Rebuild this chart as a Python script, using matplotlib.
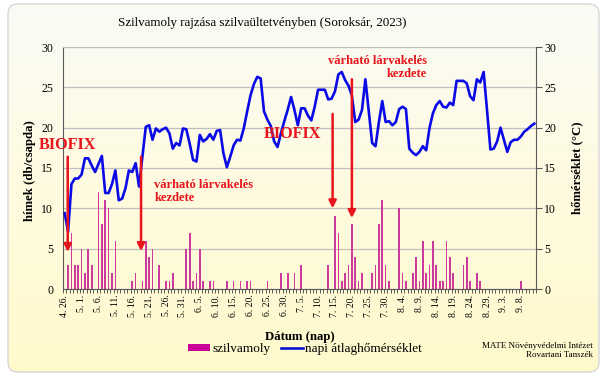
import datetime as dt
import numpy as np
import matplotlib
matplotlib.use("Agg")
import matplotlib.pyplot as plt
from matplotlib.patches import FancyBboxPatch, Patch
from matplotlib.lines import Line2D
from matplotlib.colors import LinearSegmentedColormap

plt.rcParams['font.family'] = ['Liberation Serif', 'DejaVu Serif']

# --- data -----------------------------------------------------------------
start_date = dt.date(2023, 4, 26)
n_days = 140

# moth catches (males / trap), day index from 4.26.
catch_days = [1, 2, 3, 4, 5, 6, 7, 8, 10, 11, 12, 13, 14, 15, 20, 21, 23, 24, 25, 26,
              28, 30, 31, 32, 36, 37, 38, 39, 40, 41, 43, 44, 48, 50, 52, 54, 55, 60,
              64, 66, 68, 70, 78, 80, 81, 82, 83, 84, 85, 86, 87, 88, 91, 92, 93, 94,
              95, 96, 99, 100, 101, 103, 104, 105, 106, 107, 108, 109, 110, 111, 112,
              113, 114, 115, 118, 119, 120, 122, 123, 135]
catch_vals = [3, 7, 3, 3, 5, 2, 5, 3, 12, 8, 11, 10, 2, 6, 1, 2, 1, 6, 4, 5,
              3, 1, 1, 2, 5, 7, 1, 2, 5, 1, 1, 1, 1, 1, 1, 1, 1, 1,
              2, 2, 2, 3, 3, 9, 7, 1, 2, 3, 8, 4, 1, 2, 2, 3, 8, 11,
              3, 1, 10, 2, 1, 2, 4, 1, 6, 2, 3, 6, 3, 1, 1,
              6, 4, 2, 3, 4, 1, 2, 1, 1]

# daily mean temperature (°C)
temp = [9.4, 7.1, 13.0, 13.7, 13.7, 14.2, 16.2, 16.2, 15.3, 14.5,
        15.5, 16.5, 11.9, 11.9, 13.0, 14.7, 11.0, 11.2, 12.5, 14.7,
        14.5, 15.6, 12.7, 16.4, 20.1, 20.3, 18.5, 19.9, 19.5, 19.8,
        20.0, 19.3, 17.4, 18.1, 17.8, 19.9, 19.8, 18.0, 16.0, 15.8,
        19.1, 18.3, 18.6, 19.2, 18.5, 19.6, 19.7, 16.8, 15.1, 16.4,
        17.8, 18.5, 18.4, 19.9, 22.0, 24.0, 25.4, 26.3, 26.1, 22.0,
        21.0, 20.2, 18.3, 17.6, 19.3, 20.8, 22.2, 23.8, 22.2, 20.3,
        22.4, 22.4, 21.5, 20.9, 22.6, 24.7, 24.7, 24.7, 23.5, 23.6,
        24.5, 26.6, 26.9, 25.9, 25.2, 24.0, 20.7, 21.0, 22.2, 26.0,
        22.0, 18.1, 17.7, 20.7, 23.3, 20.7, 20.8, 20.3, 20.7, 22.3,
        22.6, 22.3, 17.4, 16.9, 16.6, 17.0, 17.7, 17.2, 20.0, 21.8,
        22.8, 23.3, 22.6, 22.5, 23.1, 22.8, 25.8, 25.8, 25.8, 25.5,
        23.9, 23.4, 26.0, 25.6, 26.9, 22.2, 17.3, 17.4, 18.3, 20.0,
        18.5, 17.0, 18.2, 18.5, 18.5, 18.9, 19.5, 19.8, 20.2, 20.5]

dates = [start_date + dt.timedelta(days=i) for i in range(n_days)]
tick_pos = list(range(0, n_days, 5))
tick_labels = [f"{dates[i].month}. {dates[i].day}." for i in tick_pos]

# arrows: (x day, top, tip)
arrows = [(0.9, 16.4, 4.6), (22.6, 16.4, 4.7), (79.3, 21.7, 10.0), (85.0, 26.0, 8.8)]

# --- figure ---------------------------------------------------------------
W, H = 605, 382
fig = plt.figure(figsize=(W / 100, H / 100), dpi=100)
fig.patch.set_facecolor('white')

# rounded panel with a pale yellow gradient
bg = fig.add_axes([0, 0, 1, 1], zorder=-10)
bg.set_xlim(0, W)
bg.set_ylim(H, 0)
bg.axis('off')
cmap = LinearSegmentedColormap.from_list('panel', ['#FAFAF6', '#FFFBE0', '#FFF9CC'])
grad = np.linspace(0, 1, 256).reshape(-1, 1)
im = bg.imshow(grad, cmap=cmap, extent=(8, 599, 372, 4), aspect='auto')
panel = FancyBboxPatch((8, 4), 591, 368, boxstyle='round,pad=0,rounding_size=10',
                       fc='none', ec='#D6D6D6', lw=1.0, transform=bg.transData)
bg.add_patch(panel)
im.set_clip_path(panel)

ax = fig.add_axes([63 / W, 1 - 289 / H, 473 / W, 242 / H])
ax.set_facecolor('none')
ax.bar(catch_days, catch_vals, width=0.5, color='#CC3A9E', zorder=2)
ax.set_xlim(-0.5, n_days - 0.5)
ax.set_ylim(0, 30)
ax.set_yticks(range(0, 31, 5))
ax.yaxis.grid(True, color='#BFBFBF', lw=0.9, zorder=0)
ax.set_axisbelow(True)
ax.tick_params(axis='y', length=0, pad=7, labelsize=8.5)
ax.set_xticks(tick_pos)
ax.set_xticklabels(tick_labels, rotation=90, fontsize=7)
ax.set_xticks(np.arange(-0.5, n_days, 1), minor=True)
ax.tick_params(axis='x', which='major', length=0, pad=4)
ax.tick_params(axis='x', which='minor', length=3, color='#595959', width=0.7)
for s in ['left', 'bottom']:
    ax.spines[s].set_color('#595959')
ax.spines['top'].set_color('#BFBFBF')
ax.spines['right'].set_visible(False)

ax.set_ylabel('hímek (db/csapda)', fontsize=9.2, fontweight='bold')
ax.yaxis.set_label_coords(-0.057, 0.49)
ax.set_xlabel('Dátum (nap)', fontsize=9.2, fontweight='bold')
ax.xaxis.set_label_coords(0.501, -0.198)
ax.xaxis.label.set_va('center')

ax2 = ax.twinx()
ax2.set_facecolor('none')
ax2.plot(range(n_days), temp, color='#0A0AE6', lw=1.9, zorder=3)
ax2.set_ylim(0, 30)
ax2.set_yticks(range(0, 31, 5))
ax2.tick_params(axis='y', length=4, pad=2, labelsize=8.5, color='#595959')
ax2.spines['right'].set_color('#595959')
for s in ['left', 'top', 'bottom']:
    ax2.spines[s].set_visible(False)
ax2.set_ylabel('hőmérséklet (°C)', fontsize=9.2, fontweight='bold', rotation=90)
ax2.yaxis.set_label_coords(1.074, 0.5)

red = '#E8141B'
for x, top, tip in arrows:
    ax2.annotate('', xy=(x, tip), xytext=(x, top),
                 arrowprops=dict(arrowstyle='-|>', color=red, lw=1.8,
                                 mutation_scale=11, shrinkA=0, shrinkB=0),
                 zorder=5)

ax2.text(0.9, 17.9, 'BIOFIX', color=red, fontsize=11.7, fontweight='bold',
         ha='center', va='center', zorder=6)
ax2.text(67.3, 19.2, 'BIOFIX', color=red, fontsize=11.7, fontweight='bold',
         ha='center', va='center', zorder=6)
ax2.text(26.5, 12.1, 'várható lárvakelés\nkezdete', color=red, fontsize=9,
         fontweight='bold', ha='left', va='center', multialignment='left',
         linespacing=1.1, zorder=6)
ax2.text(107.3, 27.5, 'várható lárvakelés\nkezdete', color=red, fontsize=9,
         fontweight='bold', ha='right', va='center', multialignment='right',
         linespacing=1.1, zorder=6)

fig.text(262 / W, 1 - 23 / H, 'Szilvamoly rajzása szilvaültetvényben (Soroksár, 2023)',
         ha='center', va='center', fontsize=9.4)

handles = [Patch(facecolor='#CC0099', edgecolor='none'),
           Line2D([0], [0], color='#1010D0', lw=1.9)]
fig.legend(handles, ['szilvamoly', 'napi átlaghőmérséklet'], ncol=2, frameon=False,
           loc='center', bbox_to_anchor=(305 / W, 1 - 349 / H), fontsize=9.5,
           handlelength=1.7, handleheight=0.5, handletextpad=0.15, columnspacing=0.8)

fig.text(593 / W, 1 - 346 / H, 'MATE Növényvédelmi Intézet', ha='right', va='center',
         fontsize=6.5)
fig.text(593 / W, 1 - 355 / H, 'Rovartani Tanszék', ha='right', va='center',
         fontsize=6.5)

fig.savefig('out.png', dpi=100)
